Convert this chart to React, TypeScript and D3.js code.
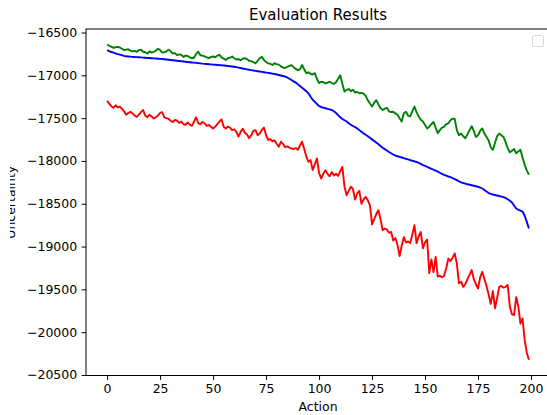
import React, { useEffect, useRef } from 'react'
import * as d3 from 'd3'

// values, one per action 0..199
const greenSeries = [
  -16640, -16655, -16665, -16680, -16672, -16668, -16675, -16690, -16705, -16700,
  -16695, -16712, -16720, -16715, -16725, -16705, -16700, -16725, -16730, -16745,
  -16720, -16735, -16725, -16712, -16690, -16705, -16735, -16730, -16720, -16700,
  -16720, -16745, -16740, -16765, -16755, -16760, -16785, -16770, -16775, -16790,
  -16800, -16795, -16750, -16725, -16765, -16770, -16780, -16790, -16800, -16785,
  -16780, -16790, -16770, -16760, -16790, -16805, -16820, -16800, -16795, -16780,
  -16800, -16815, -16810, -16825, -16805, -16800, -16810, -16830, -16835, -16845,
  -16860, -16830, -16800, -16785, -16820, -16845, -16860, -16865, -16880, -16860,
  -16870, -16875, -16895, -16910, -16915, -16900, -16890, -16880, -16905, -16925,
  -16940, -16930, -16880, -16930, -16975, -16965, -16985, -16990, -16975, -17040,
  -17090, -17075, -17080, -17095, -17085, -17075, -17090, -17100, -17080, -17040,
  -17000, -17100, -17190, -17170, -17160, -17185, -17170, -17200, -17195, -17210,
  -17205, -17215, -17240, -17290, -17330, -17365, -17320, -17290, -17340, -17385,
  -17405, -17390, -17380, -17420, -17430, -17425, -17445, -17460, -17500, -17540,
  -17440, -17425, -17470, -17480, -17420, -17365, -17430, -17480, -17520, -17540,
  -17580, -17620, -17600, -17570, -17545, -17610, -17675, -17640, -17610, -17600,
  -17570, -17560, -17525, -17505, -17510, -17640, -17700, -17680, -17710, -17735,
  -17690, -17640, -17595, -17650, -17720, -17700, -17650, -17620, -17680, -17720,
  -17760, -17840, -17870, -17790, -17710, -17680, -17700, -17720, -17780, -17850,
  -17900, -17880, -17860, -17910, -17890, -17870, -17960, -18045, -18110, -18160,
]

const blueSeries = [
  -16705, -16718, -16728, -16735, -16745, -16752, -16758, -16765, -16772, -16778,
  -16780, -16782, -16784, -16786, -16787, -16789, -16791, -16793, -16795, -16797,
  -16798, -16800, -16802, -16804, -16806, -16808, -16810, -16812, -16815, -16818,
  -16821, -16824, -16827, -16830, -16832, -16835, -16838, -16841, -16844, -16847,
  -16850, -16852, -16855, -16858, -16861, -16864, -16866, -16868, -16870, -16872,
  -16875, -16877, -16879, -16881, -16883, -16885, -16888, -16891, -16894, -16897,
  -16900, -16905, -16910, -16915, -16920, -16925, -16930, -16935, -16940, -16944,
  -16948, -16952, -16956, -16960, -16964, -16968, -16972, -16976, -16980, -16985,
  -16990, -16996, -17002, -17008, -17015, -17025, -17040, -17055, -17070, -17085,
  -17105, -17125, -17145, -17165, -17185, -17210, -17250, -17285, -17310, -17335,
  -17360, -17370, -17378, -17385, -17392, -17398, -17405, -17420, -17440, -17465,
  -17490, -17510, -17525, -17540, -17560, -17578, -17592, -17605, -17620, -17640,
  -17660, -17678, -17695, -17712, -17730, -17748, -17766, -17785, -17805, -17825,
  -17845, -17862, -17878, -17895, -17910, -17925, -17938, -17945, -17952, -17960,
  -17968, -17975, -17982, -17990, -17998, -18005, -18012, -18022, -18035, -18048,
  -18058, -18068, -18080, -18092, -18102, -18112, -18125, -18138, -18150, -18162,
  -18172, -18182, -18190, -18200, -18212, -18225, -18238, -18250, -18258, -18265,
  -18272, -18278, -18284, -18290, -18296, -18302, -18310, -18322, -18340, -18358,
  -18375, -18385, -18392, -18398, -18404, -18410, -18416, -18422, -18432, -18448,
  -18465, -18485, -18520, -18555, -18570, -18580, -18592, -18640, -18710, -18790,
]

const redSeries = [
  -17297, -17330, -17360, -17380, -17350, -17375, -17365, -17390, -17420, -17460,
  -17440, -17425, -17445, -17470, -17485, -17460, -17430, -17405, -17470, -17490,
  -17460, -17480, -17505, -17490, -17470, -17440, -17430, -17490, -17500, -17510,
  -17530, -17545, -17520, -17530, -17555, -17540, -17570, -17580, -17550, -17575,
  -17590, -17540, -17490, -17560, -17570, -17545, -17560, -17590, -17580, -17600,
  -17620, -17600, -17570, -17540, -17515, -17600, -17620, -17600, -17610, -17640,
  -17630, -17660, -17715, -17660, -17625, -17670, -17690, -17735, -17700, -17650,
  -17640, -17700, -17680, -17640, -17610, -17700, -17755, -17745, -17770, -17760,
  -17800, -17835, -17775, -17800, -17840, -17830, -17845, -17855, -17860, -17850,
  -17870, -17820, -17775, -17860, -17950, -18010, -17990, -18105, -18040, -17970,
  -18140, -18205, -18150, -18110, -18150, -18180, -18130, -18170, -18150, -18175,
  -18120, -18070, -18300, -18400, -18350, -18300, -18330, -18450, -18380, -18350,
  -18500, -18450, -18420, -18460, -18520, -18740, -18680, -18620, -18575, -18680,
  -18810, -18790, -18800, -18840, -18830, -18930, -18900, -18980, -19110, -18990,
  -18890, -18950, -18940, -18960, -18860, -18750, -18960, -18880, -18830, -19020,
  -18950, -18920, -19310, -19150, -19300, -19120, -19350, -19340, -19360, -19340,
  -19250, -19140, -19170, -19130, -19080, -19200, -19430, -19410, -19470, -19440,
  -19380, -19330, -19275, -19380, -19440, -19490, -19360, -19295, -19380, -19460,
  -19560, -19670, -19520, -19720, -19600, -19470, -19460, -19480, -19470, -19450,
  -19700, -19790, -19800, -19590, -19700, -19900, -19840, -20090, -20240, -20322,
]

const xTicks = [0, 25, 50, 75, 100, 125, 150, 175, 200]
const yTicks = [-20500, -20000, -19500, -19000, -18500, -18000, -17500, -17000, -16500]

const W = 547
const H = 415

const App = () => {
  const svgRef = useRef(null)

  useEffect(() => {
    const svg = d3.select(svgRef.current)
    svg.selectAll('*').remove()

    const left = 86
    const right = 550
    const top = 29
    const bottom = 375.5
    const font = 'DejaVu Sans, sans-serif'

    const x = d3.scaleLinear().domain([-9.95, 208.95]).range([left, right])
    const y = d3.scaleLinear().domain([-20506, -16459]).range([bottom, top])

    const series = [
      { values: redSeries, color: '#ff0000' },
      { values: blueSeries, color: '#0000ff' },
      { values: greenSeries, color: '#008000' },
    ]

    const line = d3
      .line<number>()
      .x((d, i) => x(i))
      .y((d) => y(d))

    series.forEach((s) => {
      svg
        .append('path')
        .datum(s.values)
        .attr('d', line)
        .attr('fill', 'none')
        .attr('stroke', s.color)
        .attr('stroke-width', 1.9)
        .attr('stroke-linejoin', 'round')
    })

    // spines
    svg
      .append('rect')
      .attr('x', left)
      .attr('y', top)
      .attr('width', right - left)
      .attr('height', bottom - top)
      .attr('fill', 'none')
      .attr('stroke', '#000')
      .attr('stroke-width', 1)

    const xAxis = svg
      .append('g')
      .attr('transform', `translate(0, ${bottom})`)
      .call(d3.axisBottom(x).tickValues(xTicks).tickSize(4.4).tickPadding(4.4).tickFormat(d3.format('d')))
    const yAxis = svg
      .append('g')
      .attr('transform', `translate(${left}, 0)`)
      .call(d3.axisLeft(y).tickValues(yTicks).tickSize(4.4).tickPadding(4.4).tickFormat(d3.format('d')))

    ;[xAxis, yAxis].forEach((g) => {
      g.select('.domain').remove()
      g.selectAll('line').attr('stroke', '#000').attr('stroke-width', 1)
      g.selectAll('text').attr('fill', '#000').style('font-family', font).style('font-size', '12.5px')
    })

    svg
      .append('text')
      .attr('x', (left + right) / 2)
      .attr('y', 20)
      .attr('text-anchor', 'middle')
      .style('font-family', font)
      .style('font-size', '15px')
      .attr('fill', '#000')
      .text('Evaluation Results')

    svg
      .append('text')
      .attr('x', (left + right) / 2)
      .attr('y', 411)
      .attr('text-anchor', 'middle')
      .style('font-family', font)
      .style('font-size', '12.5px')
      .attr('fill', '#000')
      .text('Action')

    // y label, its top is cut off in the reference
    svg
      .append('clipPath')
      .attr('id', 'ylabel-clip')
      .append('rect')
      .attr('x', 10)
      .attr('y', 0)
      .attr('width', 20)
      .attr('height', H)
    svg
      .append('g')
      .attr('clip-path', 'url(#ylabel-clip)')
      .append('text')
      .attr('transform', `translate(15, ${(top + bottom) / 2}) rotate(-90)`)
      .attr('text-anchor', 'middle')
      .style('font-family', font)
      .style('font-size', '12.5px')
      .attr('fill', '#000')
      .text('Uncertainty')

    // empty legend frame
    svg
      .append('rect')
      .attr('x', 532.5)
      .attr('y', 35.5)
      .attr('width', 11)
      .attr('height', 11)
      .attr('rx', 2)
      .attr('fill', '#fff')
      .attr('stroke', '#d6d6d6')
      .attr('stroke-width', 1)
  }, [])

  return (
    <svg
      ref={svgRef}
      width={W}
      height={H}
      style={{ position: 'absolute', left: 0, top: 0, background: '#fff' }}
    ></svg>
  )
}

export default App
